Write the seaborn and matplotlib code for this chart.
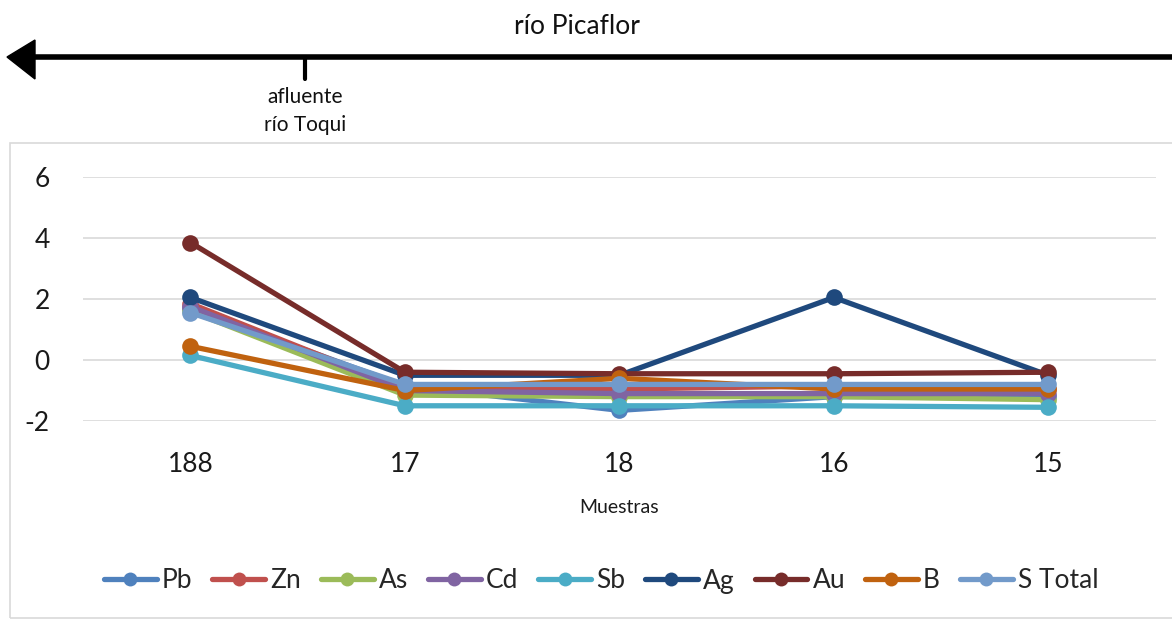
import pandas as pd
import matplotlib.pyplot as plt
import seaborn as sns
from matplotlib.patches import Rectangle, Polygon
from matplotlib.lines import Line2D

sns.set_theme(style="white")
plt.rcParams["font.family"] = ["Lato", "DejaVu Sans"]
plt.rcParams["axes.unicode_minus"] = False

# Muestras along the river (downstream to the left)
muestras = ["188", "17", "18", "16", "15"]
elementos = ["Pb", "Zn", "As", "Cd", "Sb", "Ag", "Au", "B", "S Total"]

pb = [1.70, -0.85, -1.65, -1.20, -1.20]
zn = [1.85, -0.95, -0.95, -0.85, -0.95]
as_ = [1.60, -1.15, -1.20, -1.20, -1.30]
cd = [1.75, -1.00, -1.10, -1.10, -1.10]
sb = [0.15, -1.50, -1.50, -1.50, -1.55]
ag = [2.05, -0.50, -0.50, 2.05, -0.50]
au = [3.85, -0.40, -0.45, -0.45, -0.40]
b = [0.45, -1.00, -0.60, -0.95, -0.95]
s_total = [1.55, -0.80, -0.80, -0.80, -0.80]

colores = {
    "Pb": "#4F81BD", "Zn": "#C0504D", "As": "#9BBB59", "Cd": "#8064A2",
    "Sb": "#4BACC6", "Ag": "#1F497D", "Au": "#772C2A", "B": "#C0620F",
    "S Total": "#729ACA",
}

series = [pb, zn, as_, cd, sb, ag, au, b, s_total]
rows = []
for nombre, vals in zip(elementos, series):
    for i, v in enumerate(vals):
        rows.append({"pos": i, "valor": v, "Elemento": nombre})
df = pd.DataFrame(rows)

fig = plt.figure(figsize=(11.72, 6.21), dpi=100)
ax = fig.add_axes([0.071, 0.322, 0.915, 0.393])

sns.lineplot(data=df, x="pos", y="valor", hue="Elemento", hue_order=elementos,
             palette=colores, marker="o", markersize=12, markeredgewidth=0,
             linewidth=3.8, legend=False, ax=ax, sort=False)

ax.set_xlim(-0.5, 4.5)
ax.set_ylim(-2, 6)
ax.set_yticks([-2, 0, 2, 4, 6])
ax.set_xticks(range(len(muestras)))
ax.set_xticklabels(muestras)
ax.tick_params(axis="both", labelsize=19, length=0, colors="#1a1a1a")
ax.tick_params(axis="x", pad=22)
ax.tick_params(axis="y", pad=24)
ax.grid(axis="y", color="#D9D9D9", linewidth=1.2)
ax.set_axisbelow(True)
for s in ax.spines.values():
    s.set_visible(False)
ax.set_xlabel("Muestras", fontsize=14, labelpad=16, color="#1a1a1a")
ax.set_ylabel("")

# chart border
fig.patches.append(Rectangle((10 / 1172, 0.005), 1.2, 1 - 143 / 621 - 0.005,
                             transform=fig.transFigure, fill=False,
                             edgecolor="#D9D9D9", linewidth=1.2))

# river arrow on top
y_arr = 1 - 57 / 621
fig.add_artist(Line2D([20 / 1172, 1.0], [y_arr, y_arr], color="black",
                      linewidth=4, transform=fig.transFigure))
fig.patches.append(Polygon([(7 / 1172, y_arr), (35 / 1172, 1 - 40 / 621),
                            (35 / 1172, 1 - 79 / 621)], closed=True,
                           transform=fig.transFigure, color="black"))
fig.add_artist(Line2D([305 / 1172, 305 / 1172], [y_arr, 1 - 79 / 621],
                      color="black", linewidth=3, transform=fig.transFigure))
fig.text(577 / 1172, 1 - 27 / 621, "río Picaflor", ha="center", va="center",
         fontsize=19, color="#111111")
fig.text(305 / 1172, 1 - 111 / 621, "afluente\nrío Toqui", ha="center",
         va="center", fontsize=15, color="#111111", linespacing=1.5)

# legend
handles = [Line2D([0], [0], color=colores[e], linewidth=3.8, marker="o",
                  markersize=10, markeredgewidth=0) for e in elementos]
fig.legend(handles, elementos, loc="center", bbox_to_anchor=(0.513, 1 - 581 / 621),
           ncol=len(elementos), frameon=False, fontsize=19, handlelength=2.0,
           handletextpad=0.2, columnspacing=0.75)

fig.savefig("out.png", dpi=100)
